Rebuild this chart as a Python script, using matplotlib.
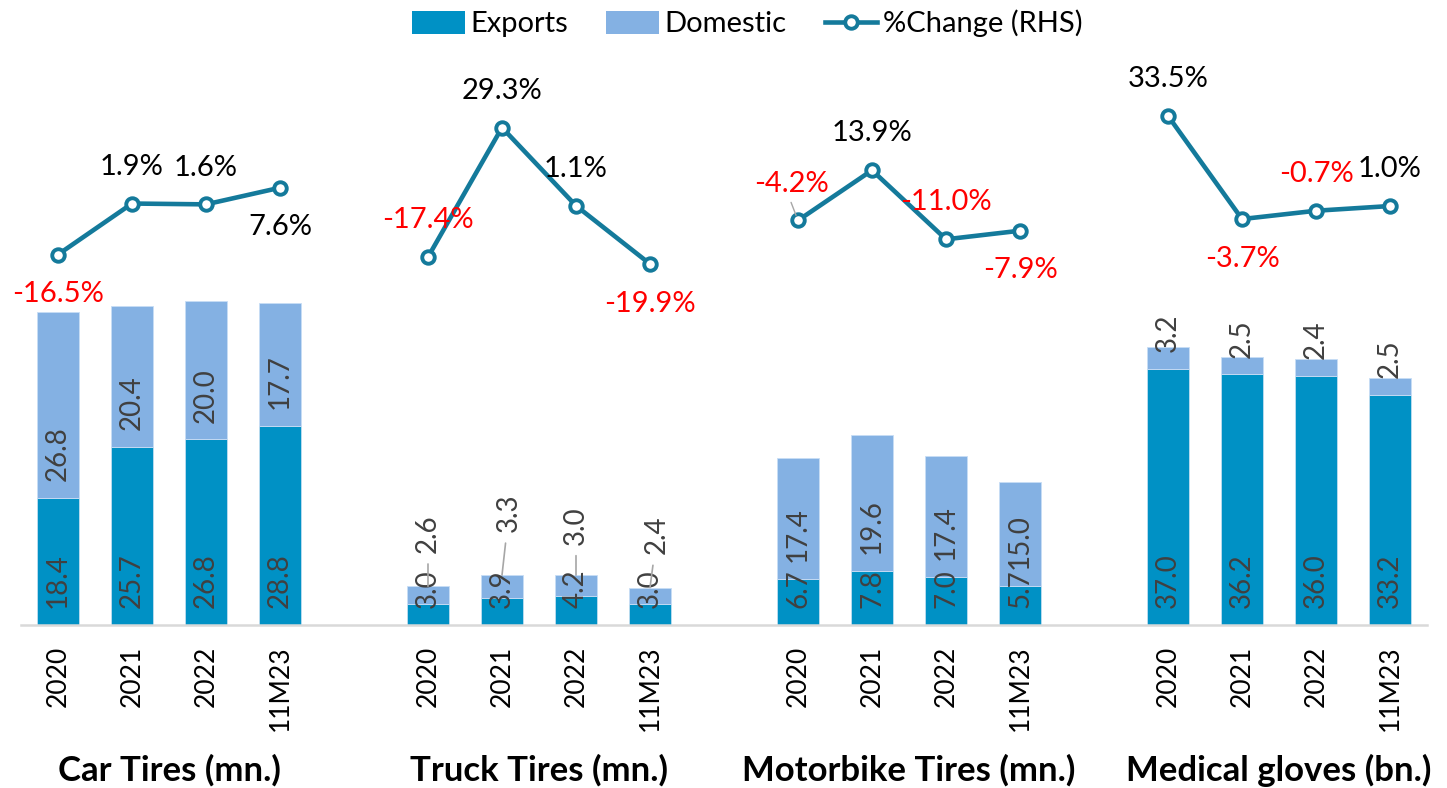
"""Stacked exports/domestic output with %change line, four product groups."""

import matplotlib

matplotlib.use("Agg")
import matplotlib.pyplot as plt
import numpy as np
from matplotlib.patches import Patch
from matplotlib.lines import Line2D

categories = ["Car Tires (mn.)", "Truck Tires (mn.)", "Motorbike Tires (mn.)", "Medical gloves (bn.)"]
periods = ["2020", "2021", "2022", "11M23"]
exports = [
    [18.4, 25.7, 26.8, 28.8],
    [3.0, 3.9, 4.2, 3.0],
    [6.7, 7.8, 7.0, 5.7],
    [37.0, 36.2, 36.0, 33.2],
]
domestic = [
    [26.8, 20.4, 20.0, 17.7],
    [2.6, 3.3, 3.0, 2.4],
    [17.4, 19.6, 17.4, 15.0],
    [3.2, 2.5, 2.4, 2.5],
]
pct_change = [
    [-16.5, 1.9, 1.6, 7.6],
    [-17.4, 29.3, 1.1, -19.9],
    [-4.2, 13.9, -11.0, -7.9],
    [33.5, -3.7, -0.7, 1.0],
]

# where each %change label sits relative to its marker
pct_side = [
    ["below", "above", "above", "below"],
    ["above", "above", "above", "below"],
    ["above", "above", "above", "below"],
    ["above", "below", "above", "above"],
]

EXPORT_COLOR = "#0091C5"
DOMESTIC_COLOR = "#84B1E3"
LINE_COLOR = "#147A9B"
LABEL_COLOR = "#404040"
FONT = ["Lato", "DejaVu Sans"]

plt.rcParams["font.family"] = FONT

fig = plt.figure(figsize=(14.47, 7.88), dpi=100)
ax = fig.add_axes([0.0145, 0.2069, 0.9717, 0.7424])
ax2 = ax.twinx()

group_step = len(periods) + 1
width = 0.57

for g, name in enumerate(categories):
    xs = np.arange(len(periods)) + g * group_step
    exp = np.array(exports[g])
    dom = np.array(domestic[g])
    ax.bar(xs, exp, width, color=EXPORT_COLOR, edgecolor="#BFDDF0", linewidth=0.6)
    ax.bar(xs, dom, width, bottom=exp, color=DOMESTIC_COLOR, edgecolor="#C8DDF5", linewidth=0.6)

    for i, x in enumerate(xs):
        ax.annotate(f"{exp[i]:.1f}", xy=(x, 0), xytext=(0, 12), textcoords="offset points",
                    rotation=90, ha="center", va="bottom", fontsize=20, color=LABEL_COLOR)
        if g == 1:
            # small truck segments: label lifted above the bar with a leader line
            dx = [0, 5, 0, 5][i]
            dy = [24, 31, 22, 24][i]
            ax.annotate(f"{dom[i]:.1f}", xy=(x, exp[i] + dom[i]), xytext=(dx, dy),
                        textcoords="offset points", rotation=90, ha="center", va="bottom",
                        fontsize=20, color=LABEL_COLOR,
                        arrowprops=dict(arrowstyle="-", color="#A6A6A6", lw=1.2,
                                        shrinkA=6, shrinkB=0))
        else:
            ax.annotate(f"{dom[i]:.1f}", xy=(x, exp[i]), xytext=(0, 12), textcoords="offset points",
                        rotation=90, ha="center", va="bottom", fontsize=20, color=LABEL_COLOR)

    pct = np.array(pct_change[g])
    ax2.plot(xs, pct, color=LINE_COLOR, lw=3.3, marker="o", markersize=9,
             markerfacecolor="white", markeredgecolor=LINE_COLOR, markeredgewidth=2.8, zorder=3)
    for i, x in enumerate(xs):
        dy = 26.5 if pct_side[g][i] == "above" else -28.5
        dx = 0
        if g == 2 and i == 0:
            dx = -5
        ax2.annotate(f"{pct[i]:.1f}%", xy=(x, pct[i]), xytext=(dx, dy), textcoords="offset points",
                     ha="center", va="center", fontsize=21,
                     color="#FF0000" if pct[i] < 0 else "black", zorder=4)

    ax.annotate(name, xy=(xs.mean(), -0.248), xycoords=("data", "axes fraction"),
                ha="center", va="center", fontsize=25, fontweight="bold", color="black",
                annotation_clip=False)

# tiny leader line on the motorbike 2020 %change label
ax2.annotate("", xy=(2 * group_step, pct_change[2][0]), xytext=(-5, 13), textcoords="offset points",
             arrowprops=dict(arrowstyle="-", color="#A6A6A6", lw=1.0, shrinkA=0, shrinkB=4))

tick_pos = np.concatenate([np.arange(len(periods)) + g * group_step for g in range(len(categories))])
ax.set_xticks(tick_pos, labels=periods * len(categories), rotation=90, fontsize=19)
ax.tick_params(axis="x", length=0, pad=15)
ax.set_xlim(-0.5, tick_pos[-1] + 0.5)
ax.set_ylim(0, 84.5)
ax2.set_ylim(-150.1, 60.9)

for a in (ax, ax2):
    a.set_yticks([])
    for side in ("top", "left", "right"):
        a.spines[side].set_visible(False)
    a.spines["bottom"].set_visible(False)
ax.spines["bottom"].set_visible(True)
ax.spines["bottom"].set_color("#D9D9D9")
ax.spines["bottom"].set_linewidth(1.8)

handles = [
    Patch(facecolor=EXPORT_COLOR, label="Exports"),
    Patch(facecolor=DOMESTIC_COLOR, label="Domestic"),
    Line2D([], [], color=LINE_COLOR, lw=3.3, marker="o", markersize=9, markerfacecolor="white",
           markeredgewidth=2.8, label="%Change (RHS)"),
]
fig.legend(handles=handles, loc="center", bbox_to_anchor=(0.5166, 0.970), ncol=3,
           frameon=False, fontsize=21, handlelength=1.8, handleheight=0.85,
           handletextpad=0.2, columnspacing=1.3)

fig.savefig("out.png", dpi=100)
